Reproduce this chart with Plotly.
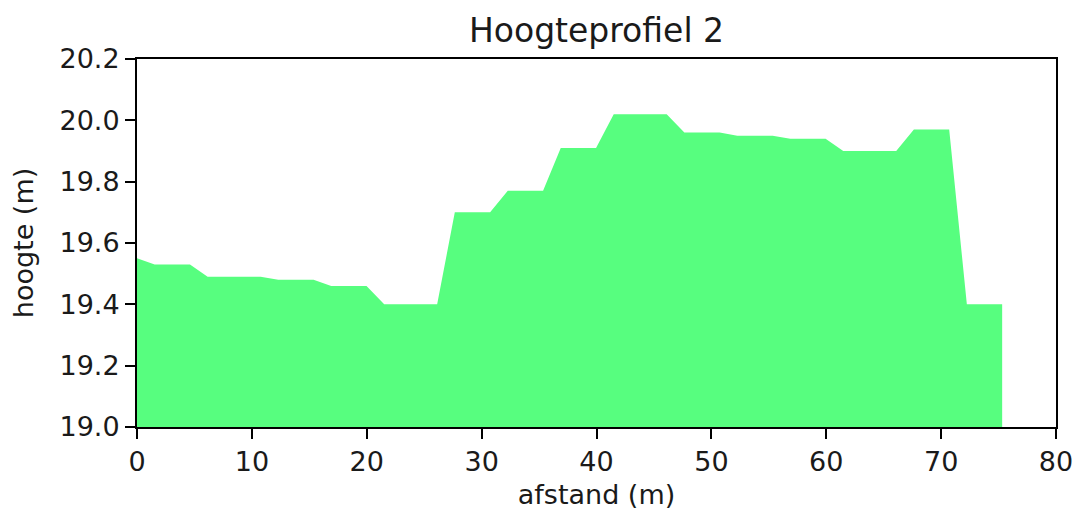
import plotly.graph_objects as go

# Data
afstand = [i * 1.537 for i in range(50)]
hoogte = [19.55, 19.53, 19.53, 19.53,
          19.49, 19.49, 19.49, 19.49,
          19.48, 19.48, 19.48,
          19.46, 19.46, 19.46,
          19.40, 19.40, 19.40, 19.40,
          19.70, 19.70, 19.70,
          19.77, 19.77, 19.77,
          19.91, 19.91, 19.91,
          20.02, 20.02, 20.02, 20.02,
          19.96, 19.96, 19.96,
          19.95, 19.95, 19.95,
          19.94, 19.94, 19.94,
          19.90, 19.90, 19.90, 19.90,
          19.97, 19.97, 19.97,
          19.40, 19.40, 19.40]

x_ticks = [0, 10, 20, 30, 40, 50, 60, 70, 80]
y_ticks = [19.0, 19.2, 19.4, 19.6, 19.8, 20.0, 20.2]

W, H = 1073, 507  # page body has an 8px margin

fig = go.Figure()
fig.add_trace(go.Scatter(
    x=afstand, y=hoogte, mode="lines", fill="tozeroy",
    line=dict(width=0, color="#57FE7F"), fillcolor="#57FE7F",
    hoverinfo="x+y", showlegend=False,
))

fig.update_layout(
    width=W, height=H,
    margin=dict(l=129, r=25, t=51, b=88, autoexpand=False),
    paper_bgcolor="white", plot_bgcolor="white",
    font=dict(family="DejaVu Sans", size=27, color="#1a1a1a"),
    title=dict(text="Hoogteprofiel 2", xref="paper", x=0.5, xanchor="center",
               y=1 - 22 / H, yanchor="middle",
               font=dict(family="DejaVu Sans", size=33, color="#1a1a1a")),
    xaxis=dict(range=[0, 80], tickvals=x_ticks, ticktext=[str(v) for v in x_ticks],
               showgrid=False, zeroline=False, showline=True, linecolor="black",
               linewidth=2, mirror=True, ticks="outside", ticklen=10, tickwidth=2,
               tickcolor="black", tickfont=dict(size=27), automargin=False,
               title=dict(text="afstand (m)", font=dict(size=27), standoff=9)),
    yaxis=dict(range=[19.0, 20.2], tickvals=y_ticks,
               ticktext=[f"{v:.1f}" for v in y_ticks],
               showgrid=False, zeroline=False, showline=True, linecolor="black",
               linewidth=2, mirror=True, ticks="outside", ticklen=10, tickwidth=2,
               tickcolor="black", tickfont=dict(size=27), automargin=False,
               title=dict(text="hoogte (m)", font=dict(size=27), standoff=19)),
)

fig.write_html("out.html")
